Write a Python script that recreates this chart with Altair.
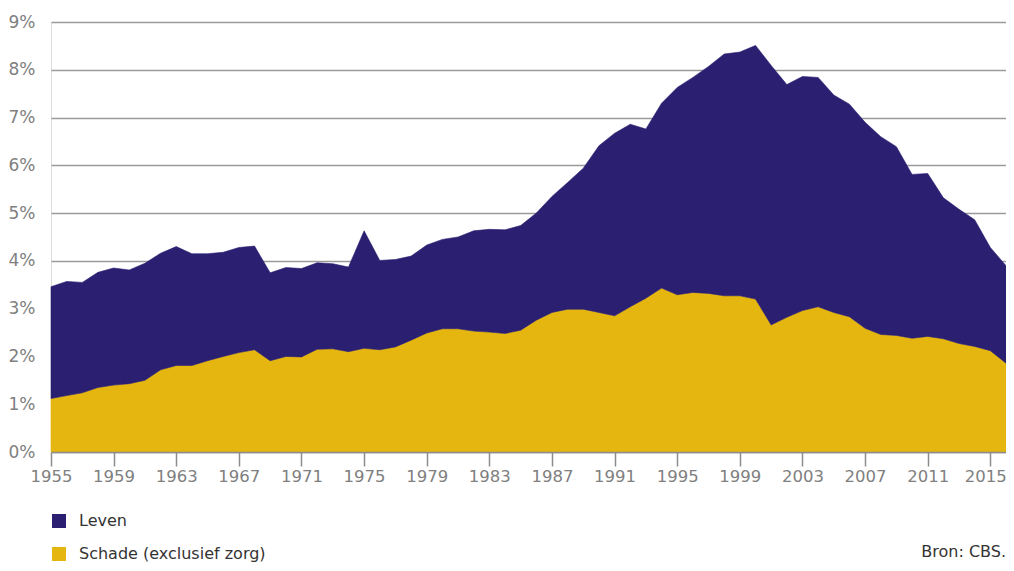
import altair as alt
import pandas as pd

years = list(range(1955, 2017))

schade = [1.12, 1.18, 1.24, 1.35, 1.40, 1.43, 1.50, 1.72, 1.81, 1.81,
          1.91, 2.00, 2.08, 2.14, 1.91, 2.00, 1.99, 2.15, 2.16, 2.10,
          2.17, 2.14, 2.20, 2.34, 2.49, 2.58, 2.58, 2.53, 2.51, 2.48,
          2.55, 2.76, 2.92, 2.99, 2.99, 2.92, 2.85, 3.04, 3.22, 3.43,
          3.29, 3.34, 3.32, 3.27, 3.27, 3.20, 2.66, 2.82, 2.96, 3.04,
          2.92, 2.83, 2.59, 2.46, 2.44, 2.38, 2.42, 2.37, 2.27, 2.21,
          2.12, 1.86]

leven = [2.34, 2.39, 2.31, 2.41, 2.45, 2.38, 2.45, 2.44, 2.49, 2.34,
         2.24, 2.18, 2.20, 2.17, 1.84, 1.86, 1.85, 1.81, 1.78, 1.77,
         2.46, 1.87, 1.83, 1.76, 1.84, 1.87, 1.92, 2.10, 2.15, 2.17,
         2.19, 2.24, 2.43, 2.65, 2.95, 3.49, 3.82, 3.82, 3.54, 3.87,
         4.34, 4.50, 4.75, 5.06, 5.10, 5.31, 5.43, 4.87, 4.90, 4.80,
         4.55, 4.45, 4.31, 4.14, 3.95, 3.43, 3.41, 2.95, 2.81, 2.65,
         2.16, 2.04]

series = ["Leven", "Schade (exclusief zorg)"]
colors = ["#2a1f71", "#e5b60f"]
x_ticks = list(range(1955, 2016, 4))
y_ticks = list(range(0, 10))
source = "Bron: CBS."

rows = []
for y, s, l in zip(years, schade, leven):
    rows.append({"jaar": y, "reeks": series[1], "waarde": s, "volgorde": 0})
    rows.append({"jaar": y, "reeks": series[0], "waarde": l, "volgorde": 1})
df = pd.DataFrame(rows)

FONT = "DejaVu Sans"
W, H = 955, 430

area = alt.Chart(df).mark_area(interpolate="linear", strokeWidth=0.6).encode(
    x=alt.X("jaar:Q",
            scale=alt.Scale(domain=[1955, 2016], nice=False, zero=False),
            axis=alt.Axis(values=x_ticks, format="d", title=None, grid=False,
                          domainColor="#8c8c8c", domainWidth=1.5,
                          tickColor="#8c8c8c", tickWidth=1.5, tickSize=14,
                          labelFontSize=16.5, labelColor="#808080", labelFont=FONT,
                          labelPadding=2, labelFlush=False, labelOverlap=False,
                          labelOffset={"condition": {"test": "datum.value == 2015", "value": -5},
                                       "value": 0},
                          zindex=1)),
    y=alt.Y("waarde:Q", stack="zero",
            scale=alt.Scale(domain=[0, 9], nice=False),
            axis=alt.Axis(values=y_ticks, labelExpr="datum.value + '%'", title=None,
                          domain=False, ticks=False, grid=True,
                          gridColor="#9a9a9a", gridWidth=1.5,
                          labelFontSize=17, labelColor="#808080", labelFont=FONT,
                          labelPadding=16)),
    color=alt.Color("reeks:N",
                    scale=alt.Scale(domain=series, range=colors),
                    legend=alt.Legend(title=None, orient="none", legendX=0, legendY=491,
                                      direction="vertical", symbolType="square",
                                      symbolSize=196, symbolStrokeWidth=0,
                                      symbolOpacity=1, labelLimit=0,
                                      labelFontSize=16, labelFont=FONT,
                                      labelColor="#333333", labelOffset=12,
                                      rowPadding=17)),
    stroke=alt.Stroke("reeks:N", scale=alt.Scale(domain=series, range=colors), legend=None),
    order=alt.Order("volgorde:Q"),
)

note = alt.Chart(pd.DataFrame({"t": [source]})).mark_text(
    align="right", baseline="middle", fontSize=16, font=FONT, color="#333333"
).encode(x=alt.value(W), y=alt.value(530), text="t:N")

chart = alt.layer(area, note).properties(
    width=W, height=H,
    autosize=alt.AutoSizeParams(type="none"),
    padding={"left": 43, "top": 14, "right": 0, "bottom": 111},
).configure_view(stroke=None).configure(background="white")

chart.save("out.html", embed_options={"renderer": "svg", "actions": False})
